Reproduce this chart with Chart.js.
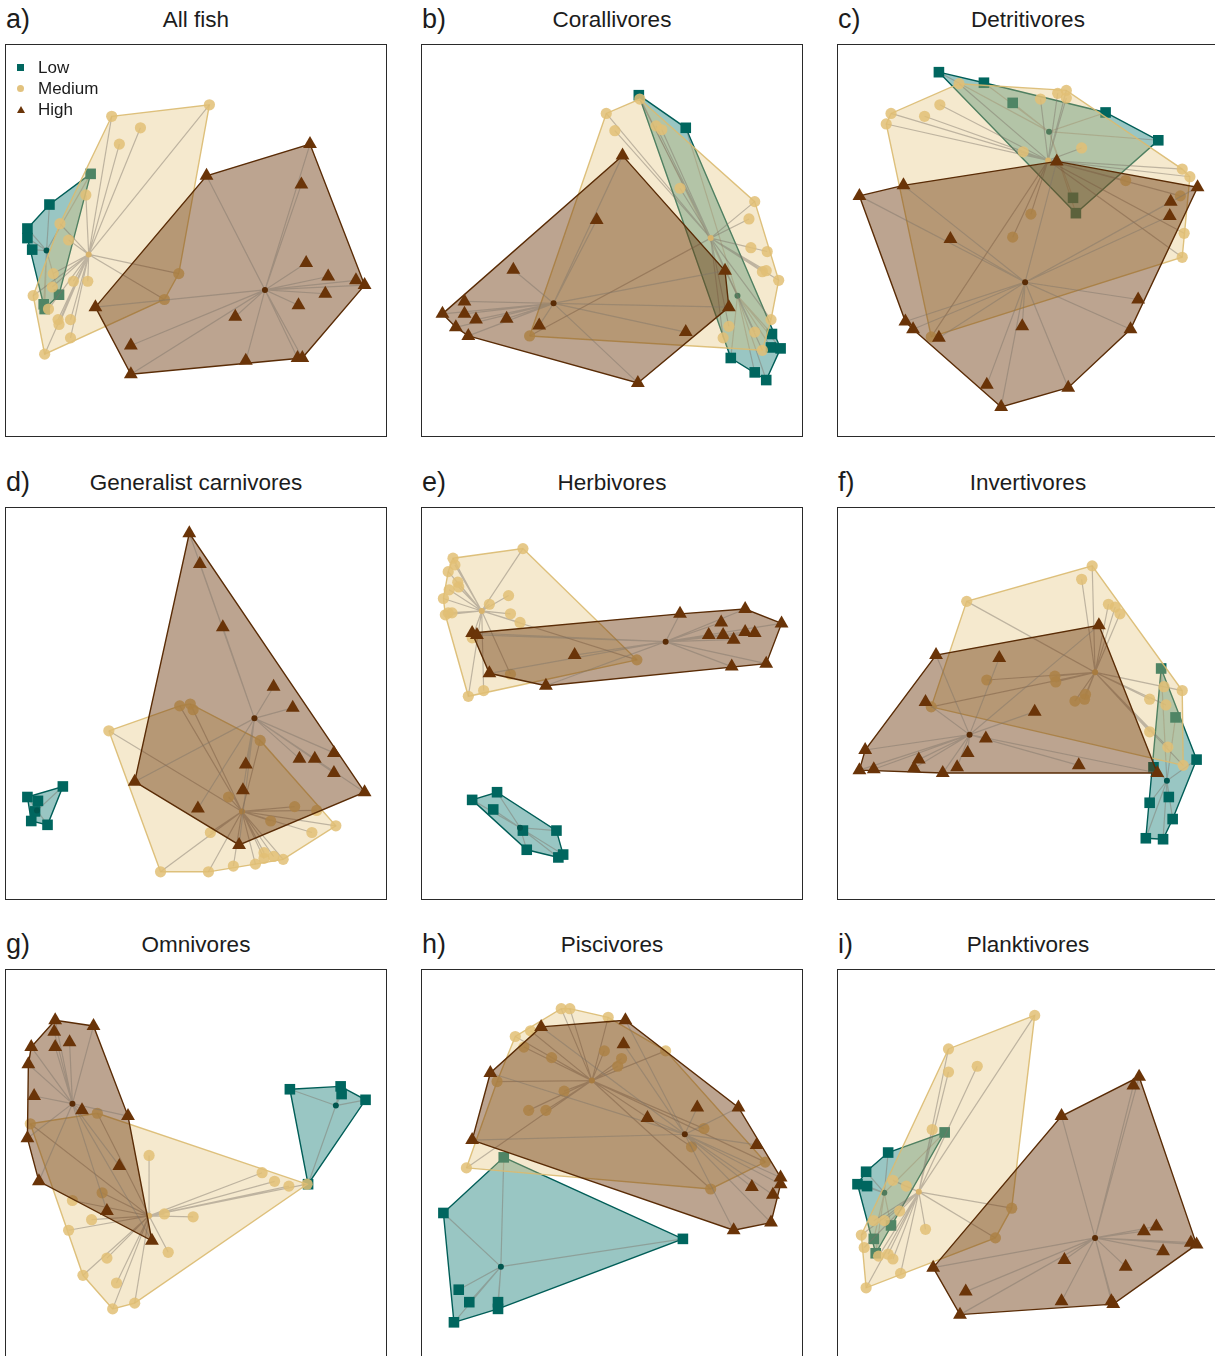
<!DOCTYPE html>
<html>
<head>
<meta charset="utf-8">
<title>Fish assemblages by habitat level</title>
<script src="https://cdn.jsdelivr.net/npm/chart.js@4.4.1/dist/chart.umd.min.js"></script>
<style>
  html, body { margin: 0; padding: 0; background: #fff; }
  body { position: relative; width: 1215px; height: 1356px; overflow: hidden;
         font-family: "Liberation Sans", Arial, sans-serif; color: #1c1c1c; }
  .box { position: absolute; border: 1px solid #2a2a2a; width: 380px; height: 391px; }
  .box canvas { display: block; }
  .tag { position: absolute; font-size: 27px; line-height: 30px; }
  .ttl { position: absolute; width: 380px; text-align: center; font-size: 22.5px; line-height: 30px; }
  .legend { position: absolute; left: 17px; top: 57px; font-size: 17px; line-height: 21px; }
  .legend div { position: relative; padding-left: 21px; }
  .legend span { position: absolute; left: 0; top: 7px; width: 7px; height: 7px; }
  .mk-low { background: #00665f; }
  .mk-med { background: #e2c27e; border-radius: 50%; }
  .mk-high { background: #6a3408; clip-path: polygon(50% 0, 100% 100%, 0 100%); width: 8px !important; }
</style>
</head>
<body>
<script>
// Ordination scores (axis 1, axis 2) for each survey site, grouped by level.
const groupNames = ['Low', 'Medium', 'High'];

// a) All fish
const allFishLow = [[86,269],[43,237],[20,212],[20,202],[25,190],[53,143],[37,133],[38,128]];
const allFishMedium = [[210,341],[108,329],[138,317],[116,300],[81,247],[54,217],[63,200],[178,165],[163,138],[47,165],[68,157],[83,157],[46,151],[26,142],[42,128],[52,117],[65,117],[53,112],[65,98],[38,81]];
const allFishHigh = [[315,300],[207,267],[306,258],[311,176],[334,162],[363,158],[372,153],[331,144],[303,132],[237,120],[91,130],[128,90],[128,60],[248,74],[302,77],[307,77]];
const allFishCentroids = [[40,189],[84,185],[268,148]];

// b) Corallivores
const corallivoresLow = [[224,351],[273,317],[363,102],[362,88],[372,87],[320,77],[345,62],[357,54]];
const corallivoresMedium = [[225,347],[190,332],[199,314],[242,319],[248,315],[267,254],[345,240],[339,222],[341,192],[358,188],[353,167],[357,168],[370,158],[362,117],[318,110],[312,98],[345,104],[353,85],[110,100]];
const corallivoresHigh = [[207,288],[180,221],[93,169],[42,136],[19,123],[42,123],[54,117],[86,118],[33,109],[46,100],[120,111],[273,104],[223,51],[314,168],[318,130]];
const corallivoresCentroids = [[327,142],[299,202],[135,134]];

// c) Detritivores
const detritivoresLow = [[103,375],[150,364],[180,343],[277,333],[332,304],[243,244],[246,228]];
const detritivoresMedium = [[124,363],[227,353],[236,356],[236,348],[209,347],[104,341],[53,332],[48,321],[88,329],[191,292],[252,296],[357,274],[365,266],[298,262],[355,246],[199,227],[180,203],[359,207],[357,182],[95,99]];
const detritivoresHigh = [[226,282],[373,255],[66,257],[20,246],[115,201],[345,240],[344,225],[311,138],[303,107],[190,110],[68,115],[76,107],[103,98],[153,49],[238,46],[168,26]];
const detritivoresCentroids = [[218,313],[217,283],[193,156]];

// d) Generalist carnivores
const carnivoresLow = [[20,102],[31,98],[57,113],[28,87],[24,77],[41,73]];
const carnivoresMedium = [[105,171],[179,197],[190,199],[193,193],[263,161],[230,102],[299,92],[322,88],[274,77],[342,72],[317,65],[211,65],[267,44],[267,38],[277,40],[287,37],[258,32],[235,30],[209,24],[159,24]];
const carnivoresHigh = [[189,377],[200,345],[224,279],[277,217],[297,195],[340,148],[304,142],[320,142],[340,127],[372,107],[248,136],[245,109],[198,90],[241,52],[132,118]];
const carnivoresCentroids = [[30,88],[244,87],[257,184]];

// e) Herbivores
const herbivoresLow = [[50,99],[76,107],[72,89],[103,67],[138,67],[107,47],[140,39],[145,42]];
const herbivoresMedium = [[30,351],[103,361],[32,344],[25,337],[35,326],[36,321],[26,318],[20,309],[88,312],[68,303],[90,293],[25,294],[22,292],[29,294],[100,284],[50,268],[222,245],[90,230],[62,213],[46,207]];
const herbivoresHigh = [[267,293],[335,298],[373,283],[310,284],[297,271],[312,271],[323,266],[335,274],[345,273],[357,241],[321,238],[157,250],[127,218],[68,231],[50,273],[55,271]];
const herbivoresCentroids = [[100,70],[60,296],[252,264]];

// f) Invertivores
const invertivoresLow = [[335,236],[350,185],[372,141],[327,133],[343,102],[323,96],[347,79],[319,59],[337,58]];
const invertivoresMedium = [[263,343],[252,329],[132,306],[280,303],[287,300],[292,293],[153,224],[224,228],[225,222],[256,209],[245,202],[255,204],[323,204],[340,198],[338,217],[357,213],[323,170],[342,154],[358,135],[95,196]];
const invertivoresHigh = [[270,281],[100,250],[166,247],[89,201],[203,191],[152,163],[133,148],[26,151],[82,141],[77,132],[122,133],[35,131],[20,130],[107,127],[249,135],[331,127]];
const invertivoresCentroids = [[341,119],[266,232],[135,167]];

// g) Omnivores
const omnivoresLow = [[294,279],[347,282],[348,274],[373,268],[313,180]];
const omnivoresMedium = [[93,254],[23,243],[147,210],[265,192],[278,183],[293,178],[312,180],[98,171],[67,163],[163,149],[193,146],[87,143],[63,132],[167,109],[103,103],[78,85],[113,77],[132,56],[109,50]];
const omnivoresHigh = [[49,351],[89,345],[48,339],[24,323],[49,323],[64,328],[21,305],[27,272],[77,257],[125,251],[20,228],[116,199],[32,183],[103,152],[150,121]];
const omnivoresCentroids = [[342,262],[147,147],[67,264]];

// h) Piscivores
const piscivoresLow = [[83,208],[20,150],[270,123],[36,70],[47,57],[77,57],[77,50],[31,36]];
const piscivoresMedium = [[143,363],[152,363],[192,354],[95,334],[111,340],[104,323],[133,312],[188,319],[206,311],[202,303],[252,319],[76,287],[146,277],[109,257],[127,257],[292,238],[279,219],[356,203],[299,175],[44,197]];
const piscivoresHigh = [[122,344],[210,351],[208,326],[69,296],[50,226],[233,249],[285,260],[328,260],[347,221],[372,187],[372,180],[342,177],[364,169],[362,140],[323,132]];
const piscivoresCentroids = [[80,94],[175,288],[272,232]];

// i) Planktivores
const planktivoresLow = [[109,234],[50,213],[27,193],[18,180],[28,178],[53,137],[35,123],[37,108]];
const planktivoresMedium = [[203,356],[113,321],[143,303],[113,297],[96,237],[55,184],[69,178],[179,155],[35,142],[46,142],[62,152],[89,133],[22,127],[25,114],[162,124],[40,105],[50,107],[55,102],[63,87],[27,72]];
const planktivoresHigh = [[312,292],[306,283],[231,251],[330,136],[317,131],[366,119],[372,117],[337,110],[234,101],[298,94],[97,93],[131,68],[231,58],[283,58],[285,55],[125,44]];
const planktivoresCentroids = [[46,171],[82,172],[266,124]];

// Panel tags and titles
const panelTags = ['a)', 'b)', 'c)', 'd)', 'e)', 'f)', 'g)', 'h)', 'i)'];
const panelTitles = ['All fish', 'Corallivores', 'Detritivores', 'Generalist carnivores', 'Herbivores', 'Invertivores', 'Omnivores', 'Piscivores', 'Planktivores'];

const panelGroups = [
  [allFishLow, allFishMedium, allFishHigh, allFishCentroids],
  [corallivoresLow, corallivoresMedium, corallivoresHigh, corallivoresCentroids],
  [detritivoresLow, detritivoresMedium, detritivoresHigh, detritivoresCentroids],
  [carnivoresLow, carnivoresMedium, carnivoresHigh, carnivoresCentroids],
  [herbivoresLow, herbivoresMedium, herbivoresHigh, herbivoresCentroids],
  [invertivoresLow, invertivoresMedium, invertivoresHigh, invertivoresCentroids],
  [omnivoresLow, omnivoresMedium, omnivoresHigh, omnivoresCentroids],
  [piscivoresLow, piscivoresMedium, piscivoresHigh, piscivoresCentroids],
  [planktivoresLow, planktivoresMedium, planktivoresHigh, planktivoresCentroids]
];

// Page layout: 3 x 3 grid of plot boxes
const colLeft = [6, 422, 838];
const rowTop = [45, 508, 970];
const boxW = 380, boxH = 391;

// Group styling
const groupStyle = {
  Low:    { point: '#00665f', fill: 'rgba(0,112,106,0.40)', edge: '#005e58', shape: 'rect', radius: 7.5, centre: '#00564f' },
  Medium: { point: 'rgba(226,191,118,0.85)', fill: 'rgba(226,191,116,0.35)', edge: 'rgba(218,186,112,0.9)', shape: 'circle', radius: 5.6, centre: '#d9b46c' },
  High:   { point: '#6a3408', fill: 'rgba(110,56,12,0.46)', edge: '#5a2c06', shape: 'triangle', radius: 8, centre: '#5a2c06' }
};
const spokeColour = 'rgba(125,115,105,0.45)';

// Convex hull (monotone chain) of a group's sites
function convexHull(pts) {
  const p = pts.map(([x, y]) => ({ x, y })).sort((a, b) => a.x - b.x || a.y - b.y);
  if (p.length < 3) return p;
  const cross = (o, a, b) => (a.x - o.x) * (b.y - o.y) - (a.y - o.y) * (b.x - o.x);
  const lower = [];
  for (const q of p) {
    while (lower.length >= 2 && cross(lower[lower.length - 2], lower[lower.length - 1], q) <= 0) lower.pop();
    lower.push(q);
  }
  const upper = [];
  for (let i = p.length - 1; i >= 0; i--) {
    const q = p[i];
    while (upper.length >= 2 && cross(upper[upper.length - 2], upper[upper.length - 1], q) <= 0) upper.pop();
    upper.push(q);
  }
  upper.pop(); lower.pop();
  return lower.concat(upper);
}

function buildDatasets(groups) {
  const centroids = groups[3];
  const sets = [];
  groupNames.forEach((name, g) => {
    const st = groupStyle[name];
    const pts = groups[g];
    const c = { x: centroids[g][0], y: centroids[g][1] };
    const hull = convexHull(pts);
    hull.push(hull[0]);
    // hull polygon
    sets.push({ type: 'line', label: name + ' hull', data: hull, fill: 'shape',
      backgroundColor: st.fill, borderColor: st.edge, borderWidth: 1.4,
      pointRadius: 0, tension: 0, clip: false });
    // spokes from each site to the group centroid
    const spokes = [c];
    pts.forEach(([x, y]) => { spokes.push({ x, y }); spokes.push(c); });
    sets.push({ type: 'line', label: name + ' spokes', data: spokes, fill: false,
      borderColor: spokeColour, borderWidth: 1.2, pointRadius: 0, tension: 0, clip: false });
    // sites
    sets.push({ type: 'scatter', label: name, data: pts.map(([x, y]) => ({ x, y })),
      pointStyle: st.shape, pointRadius: st.radius, backgroundColor: st.point,
      borderWidth: 0, clip: false });
    // centroid
    sets.push({ type: 'scatter', label: name + ' centroid', data: [c],
      pointStyle: 'circle', pointRadius: 3, backgroundColor: st.centre, borderWidth: 0, clip: false });
  });
  // first pushed is drawn first (at the bottom)
  sets.forEach((s, k) => { s.order = 100 - k; });
  return sets;
}

panelGroups.forEach((groups, i) => {
  const left = colLeft[i % 3], top = rowTop[Math.floor(i / 3)];

  const tag = document.createElement('div');
  tag.className = 'tag';
  tag.style.left = (left) + 'px';
  tag.style.top = (top - 41) + 'px';
  tag.textContent = panelTags[i];
  document.body.appendChild(tag);

  const ttl = document.createElement('div');
  ttl.className = 'ttl';
  ttl.style.left = left + 'px';
  ttl.style.top = (top - 40) + 'px';
  ttl.textContent = panelTitles[i];
  document.body.appendChild(ttl);

  const box = document.createElement('div');
  box.className = 'box';
  box.style.left = (left - 1) + 'px';
  box.style.top = (top - 1) + 'px';
  const cv = document.createElement('canvas');
  cv.width = boxW; cv.height = boxH;
  box.appendChild(cv);
  document.body.appendChild(box);

  new Chart(cv, {
    type: 'scatter',
    data: { datasets: buildDatasets(groups) },
    options: {
      responsive: false,
      animation: false,
      events: [],
      layout: { padding: 0 },
      scales: {
        x: { type: 'linear', min: 6, max: 386, display: false },
        y: { type: 'linear', min: 4, max: 395, display: false }
      },
      plugins: { legend: { display: false }, tooltip: { enabled: false } }
    }
  });

  if (i === 0) {
    const lg = document.createElement('div');
    lg.className = 'legend';
    const marks = ['mk-low', 'mk-med', 'mk-high'];
    groupNames.forEach((n, k) => {
      const row = document.createElement('div');
      const m = document.createElement('span');
      m.className = marks[k];
      row.appendChild(m);
      row.appendChild(document.createTextNode(n));
      lg.appendChild(row);
    });
    document.body.appendChild(lg);
  }
});
</script>
</body>
</html>
